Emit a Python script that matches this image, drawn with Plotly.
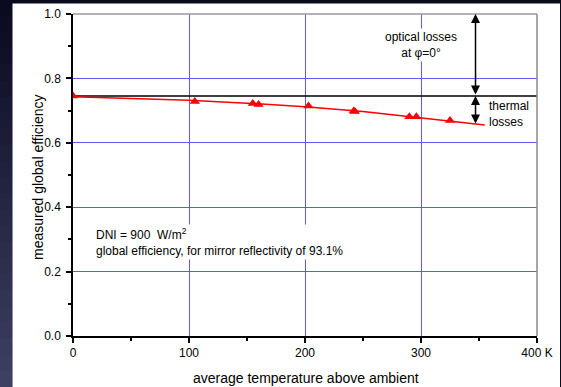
import plotly.graph_objects as go

# ---- data ----
meas_temp = [0, 105, 155, 160, 203, 242, 243, 290, 296, 325]
meas_eff = [0.745, 0.728, 0.722, 0.719, 0.714, 0.699, 0.697, 0.681, 0.681, 0.669]
fit_temp = [0, 50, 100, 150, 200, 250, 300, 355]
fit_eff = [0.743, 0.737, 0.732, 0.723, 0.712, 0.697, 0.677, 0.655]
optical_level = 0.745
ref_temp = [0, 400]
x_ticks = [0, 100, 200, 300, 400]
x_ticktext = ["0", "100", "200", "300", "400 K"]
y_ticks = [0.0, 0.2, 0.4, 0.6, 0.8, 1.0]
y_ticktext = ["0.0", "0.2", "0.4", "0.6", "0.8", "1.0"]
arrow_x = 347
thermal_end = 0.655

FONT = "Liberation Sans, Arial, sans-serif"
GRID = "rgb(90,90,255)"
L, R, T, B = 73, 24, 14, 51
W, H = 561, 387
PW, PH = W - L - R, H - T - B

def px(xp):
    return (xp - L) / PW

def py(yp):
    return (H - B - yp) / PH

fig = go.Figure()

fig.add_trace(go.Scatter(x=ref_temp, y=[optical_level] * len(ref_temp), mode="lines",
                         line=dict(color="black", width=1.5), showlegend=False, hoverinfo="skip"))
fig.add_trace(go.Scatter(x=fit_temp, y=fit_eff, mode="lines",
                         line=dict(color="#ff0000", width=1.5), showlegend=False))
fig.add_trace(go.Scatter(x=meas_temp, y=meas_eff, mode="markers",
                         marker=dict(symbol="triangle-up", color="#ff0000", size=9),
                         showlegend=False))

shapes = []
# gradient strip on the left
n = 24
top_c = (10, 10, 32)
bot_c = (62, 64, 98)
for i in range(n):
    t = i / (n - 1)
    c = tuple(int(top_c[k] + (bot_c[k] - top_c[k]) * t) for k in range(3))
    y0p = H * i / n
    y1p = H * (i + 1) / n + 1
    shapes.append(dict(type="rect", xref="paper", yref="paper", x0=px(-1), x1=px(12.5),
                       y0=py(y1p), y1=py(y0p), fillcolor="rgb(%d,%d,%d)" % c,
                       line=dict(width=0), layer="below"))
# white panel
shapes.append(dict(type="rect", xref="paper", yref="paper", x0=px(12.5), x1=px(560),
                   y0=py(H + 2), y1=py(3.5), fillcolor="white", line=dict(width=0), layer="below"))
# top and right frame
shapes.append(dict(type="line", xref="paper", yref="paper", x0=0, x1=1, y0=1, y1=1,
                   line=dict(color="#9a9a9a", width=1.5)))
shapes.append(dict(type="line", xref="paper", yref="paper", x0=1, x1=1, y0=0, y1=1,
                   line=dict(color="#8a8a8a", width=1.5)))

annotations = [
    dict(x=arrow_x, y=1.0, ax=arrow_x, ay=optical_level, xref="x", yref="y", axref="x", ayref="y",
         text="", showarrow=True, arrowhead=2, arrowside="end+start", arrowsize=1.2,
         arrowwidth=1.5, arrowcolor="black"),
    dict(x=arrow_x, y=optical_level, ax=arrow_x, ay=thermal_end, xref="x", yref="y", axref="x", ayref="y",
         text="", showarrow=True, arrowhead=2, arrowside="end+start", arrowsize=1.2,
         arrowwidth=1.5, arrowcolor="black"),
    dict(x=300, y=0.905, xref="x", yref="y", text="optical losses<br>at φ=0°", showarrow=False,
         font=dict(family=FONT, size=12, color="black"), bgcolor="white", align="center"),
    dict(x=357, y=0.689, xref="x", yref="y", text="thermal<br>losses", showarrow=False,
         xanchor="left", font=dict(family=FONT, size=12, color="black"), align="left"),
    dict(x=18, y=0.291, xref="x", yref="y",
         text="DNI = 900  W/m<sup>2</sup><br>global efficiency, for mirror reflectivity of 93.1%",
         showarrow=False, xanchor="left", align="left", bgcolor="white",
         font=dict(family=FONT, size=12, color="black")),
    # axis titles
    dict(x=px(306), y=py(378), xref="paper", yref="paper", text="average temperature above ambient",
         showarrow=False, xanchor="center", yanchor="middle",
         font=dict(family=FONT, size=14, color="black")),
    dict(x=px(38), y=py(177), xref="paper", yref="paper", text="measured global efficiency",
         showarrow=False, xanchor="center", yanchor="middle", textangle=-90,
         font=dict(family=FONT, size=14, color="black")),
]

fig.update_layout(
    width=W, height=H,
    margin=dict(l=L, r=R, t=T, b=B, autoexpand=False),
    paper_bgcolor="rgb(10,10,30)",
    plot_bgcolor="rgba(0,0,0,0)",
    shapes=shapes,
    annotations=annotations,
    font=dict(family=FONT, size=12, color="black"),
    xaxis=dict(range=[0, 400], tickvals=x_ticks, ticktext=x_ticktext, ticks="outside",
               ticklen=5, tickwidth=1.5, tickcolor="black", showline=True, linecolor="black",
               linewidth=1.5, showgrid=True, gridcolor=GRID, gridwidth=1,
               zeroline=False, automargin=False, tickfont=dict(family=FONT, size=12, color="black"),
               minor=dict(dtick=50, ticks="outside", ticklen=3, tickwidth=1.5, tickcolor="black",
                          showgrid=False)),
    yaxis=dict(range=[0, 1.0], tickvals=y_ticks, ticktext=y_ticktext, ticks="outside",
               ticklen=5, tickwidth=1.5, tickcolor="black", showline=True, linecolor="black",
               linewidth=1.5, showgrid=True, gridcolor=GRID, gridwidth=1,
               zeroline=False, automargin=False, ticklabelstandoff=3,
               tickfont=dict(family=FONT, size=12, color="black"),
               minor=dict(dtick=0.1, ticks="outside", ticklen=3, tickwidth=1.5, tickcolor="black",
                          showgrid=False)),
)

fig.write_html("out.html", config={"displayModeBar": False},
               post_script="document.body.style.margin='0';document.body.style.overflow='hidden';")
